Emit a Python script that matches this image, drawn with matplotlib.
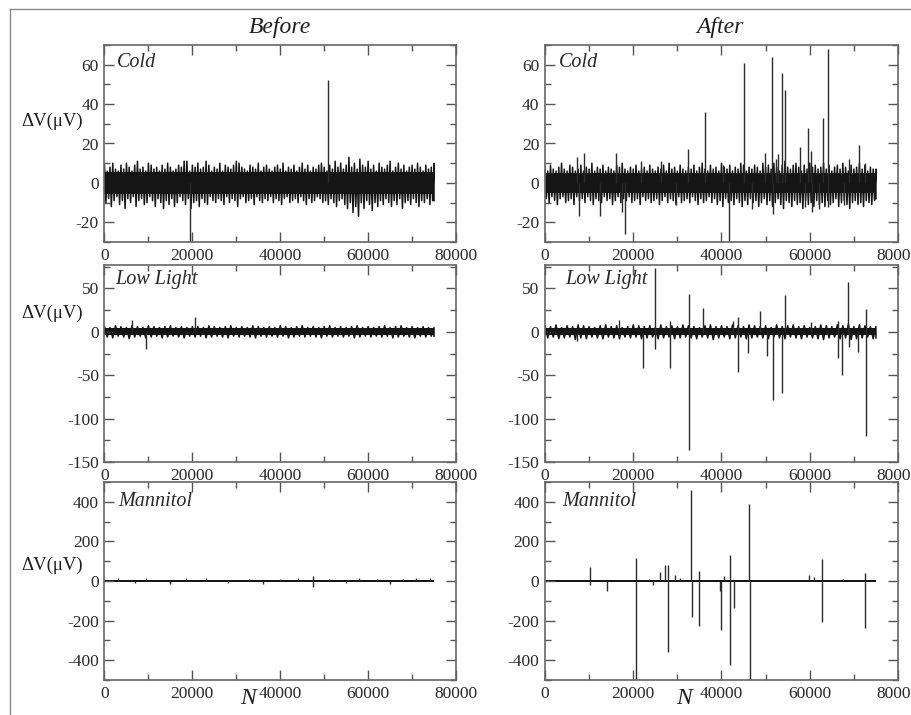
import matplotlib
matplotlib.use("Agg")
import matplotlib.pyplot as plt
import numpy as np
from matplotlib.ticker import MultipleLocator
from matplotlib.lines import Line2D

plt.rcParams['font.family'] = ['Liberation Serif', 'DejaVu Serif']
plt.rcParams['axes.unicode_minus'] = False

N_END = 75000

# ---- Cold ----
cold_before_hi = [9, 6, 8, 10, 7, 6, 9, 7, 10, 8, 6, 9, 11, 7, 8, 6, 10, 9, 7, 8,
                  6, 9, 7, 10, 8, 6, 7, 9, 8, 11, 11, 6, 9, 8, 10, 7, 8, 11, 9, 6,
                  8, 7, 10, 6, 9, 8, 7, 9, 11, 10, 8, 7, 6, 9, 8, 7, 10, 6, 8, 9,
                  7, 6, 8, 9, 7, 10, 6, 8, 7, 9, 6, 8, 10, 7, 9, 6, 8, 7, 9, 10,
                  8, 6, 9, 7, 11, 8, 10, 7, 9, 13, 8, 10, 7, 12, 9, 8, 11, 7, 9, 6,
                  10, 8, 7, 9, 11, 6, 8, 10, 7, 9, 6, 8, 9, 7, 10, 8, 6, 9, 7, 8,
                  10]
cold_before_lo = [-10, -8, -12, -9, -7, -11, -9, -13, -8, -10, -7, -12, -9, -8, -11, -10, -7, -9, -12, -8,
                  -10, -13, -9, -11, -8, -12, -10, -7, -9, -11, -8, -13, -10, -9, -12, -8, -10, -11, -7, -9,
                  -10, -8, -9, -11, -7, -10, -8, -9, -12, -8, -7, -10, -9, -8, -11, -7, -9, -10, -8, -9,
                  -7, -10, -8, -9, -11, -8, -7, -10, -9, -8, -10, -7, -9, -11, -8, -10, -9, -7, -8, -10,
                  -9, -11, -8, -10, -12, -9, -8, -11, -13, -10, -15, -12, -17, -10, -13, -9, -11, -14, -10, -12,
                  -9, -11, -8, -10, -12, -9, -11, -8, -13, -10, -9, -11, -8, -10, -12, -9, -10, -8, -11, -9,
                  -9]
cold_before_core = 5.5
cold_before_spike_n = [19500, 50900]
cold_before_spike_v = [-31, 52]

cold_after_hi = [8, 6, 9, 7, 6, 8, 10, 7, 6, 9, 8, 6, 7, 9, 6, 8, 7, 10, 6, 8,
                 7, 9, 6, 8, 7, 6, 9, 8, 10, 7, 6, 8, 7, 9, 6, 7, 8, 6, 9, 7,
                 6, 8, 7, 9, 6, 10, 7, 8, 6, 9, 7, 6, 8, 7, 9, 6, 8, 10, 7, 6,
                 9, 7, 8, 6, 10, 8, 7, 9, 6, 8, 7, 10, 9, 6, 8, 7, 9, 8, 6, 10,
                 8, 9, 7, 10, 8, 6, 9, 11, 8, 7, 9, 10, 8, 6, 9, 7, 10, 8, 9, 7,
                 8, 10, 7, 9, 6, 8, 9, 7, 10, 8, 6, 9, 7, 8, 10, 7, 9, 6, 8, 7,
                 7]
cold_after_lo = [-8, -10, -7, -9, -11, -8, -7, -10, -9, -8, -11, -7, -9, -8, -10, -7, -9, -11, -8, -9,
                 -10, -7, -9, -8, -11, -9, -7, -10, -8, -9, -7, -10, -9, -8, -11, -7, -9, -8, -10, -9,
                 -8, -11, -9, -7, -10, -8, -9, -11, -7, -10, -9, -8, -10, -7, -9, -11, -8, -10, -9, -7,
                 -10, -8, -11, -9, -12, -8, -10, -9, -11, -8, -10, -12, -9, -11, -8, -10, -9, -12, -10, -8,
                 -11, -9, -12, -10, -8, -11, -13, -9, -10, -12, -9, -11, -10, -13, -9, -11, -10, -12, -9, -11,
                 -10, -12, -9, -11, -10, -8, -12, -10, -9, -11, -13, -10, -9, -11, -10, -12, -9, -10, -11, -9,
                 -8]
cold_after_core = 5
cold_after_spike_n = [7200, 8900, 16200, 21700, 26200, 32300, 36300, 40300, 45200, 49800,
                      51500, 52400, 52800, 53800, 54400, 57700, 59600, 60300, 63000, 64200,
                      68900, 71100, 72500,
                      7700, 12400, 17500, 18100, 29800, 41800, 46800, 51600, 58900, 60500,
                      62000, 64200, 67700]
cold_after_spike_v = [13, 15, 15, 11, 11, 17, 36, 9, 61, 15,
                      64, 12, 14.5, 56, 47, 18, 28, 16, 33, 68,
                      12, 19, 10,
                      -17, -17, -15, -26, -11, -31, -13, -16, -12, -15,
                      -13, -12, -11]

# ---- Low Light ----
low_before_hi = [6, 5, 7, 6, 5, 7, 6, 5, 7, 6, 5, 6, 7, 5, 6, 5, 6, 6, 5, 7,
                 6, 5, 6, 7, 5, 6, 5, 7, 6, 5, 6, 5, 7, 6, 5, 6, 7, 5, 6, 5,
                 6, 7, 5, 6, 5, 6, 7, 5, 6, 5, 6, 7, 5, 6, 7, 5, 6, 5, 6, 5, 5]
low_before_lo = [-6, -7, -5, -6, -8, -6, -5, -7, -6, -5, -7, -6, -5, -6, -7, -5, -6, -5, -7, -6,
                 -5, -6, -7, -5, -6, -5, -6, -7, -5, -6, -5, -6, -5, -7, -6, -5, -6, -5, -6, -7,
                 -5, -6, -5, -6, -5, -7, -6, -5, -6, -5, -6, -5, -7, -6, -5, -6, -7, -5, -6, -5, -5]
low_before_core = 4
low_before_spike_n = [6300, 9400, 20600]
low_before_spike_v = [14, -20, 17]

low_after_hi = [7, 6, 8, 5, 7, 6, 8, 7, 6, 5, 7, 8, 6, 7, 5, 6, 8, 7, 6, 7,
                5, 8, 6, 7, 6, 8, 7, 6, 5, 7, 8, 6, 7, 6, 8, 7, 6, 8, 7, 6,
                7, 5, 8, 6, 7, 8, 6, 7, 5, 6, 8, 7, 6, 8, 7, 9, 6, 8, 7, 6, 6]
low_after_lo = [-7, -6, -8, -7, -6, -9, -7, -8, -6, -7, -8, -6, -7, -8, -6, -7, -6, -8, -7, -6,
                -8, -7, -6, -8, -7, -6, -7, -8, -6, -7, -9, -7, -6, -8, -7, -6, -8, -7, -6, -7,
                -8, -6, -7, -8, -6, -7, -8, -6, -7, -8, -9, -7, -6, -8, -7, -9, -8, -7, -6, -8, -7]
low_after_core = 4
low_after_spike_n = [7300, 16800, 22100, 24900, 24900, 28300, 28300, 32700, 32700, 35700,
                     42600, 43700, 43700, 46000, 48700, 50200, 51700, 53800, 54300, 60200,
                     66300, 66300, 67200, 68700, 68900, 71000, 72700, 72700]
low_after_spike_v = [-10, 14, -42, 73, -20, 12, -42, 44, -136, 28,
                     12, 17, -46, -24, 24, -28, -78, -70, 42, 11,
                     12, -30, -50, 57, -18, -23, 26, -120]

# ---- Mannitol ----
man_before_core = 6
man_before_spike_n = [3000, 7000, 9500, 15000, 18500, 23000, 28000, 33000, 36000, 40000,
                      44000, 47400, 47400, 51000, 55000, 58000, 62000, 65000, 68000, 71000, 74000]
man_before_spike_v = [14, -12, 14, -14, 16, 14, -12, 12, -14, 12,
                      14, 24, -30, 12, -12, 14, 12, -14, 12, 14, 16]

man_after_core = 7
man_after_spike_n = [10200, 10200, 14100, 20600, 20700, 23500, 24500, 26000, 27200, 27900,
                     27900, 29500, 30500, 33200, 33300, 35000, 35000, 39700, 40000, 40500,
                     41900, 42000, 42800, 46300, 46400, 59800, 61000, 62700, 62700, 67500,
                     72500, 72500]
man_after_spike_v = [72, -20, -50, 115, -510, 12, -20, 45, 80, 80,
                     -357, 30, 15, 460, -180, 50, -225, -50, -245, 25,
                     130, -424, -138, 388, -510, 30, 20, 112, -205, 10,
                     42, -238]

W, H = 912, 715
fig = plt.figure(figsize=(W / 100, H / 100), dpi=100)
fig.patch.set_facecolor('white')

col_x = [(104.5, 351.5), (545, 353)]
row_y = [(45, 242), (265, 462), (482, 680)]

ylims = [(-30, 70), (-150, 77), (-500, 500)]
ymajor = [20, 50, 200]
names = ['Cold', 'Low Light', 'Mannitol']
name_x = [[0.036, 0.04], [0.03, 0.057], [0.04, 0.05]]
name_y = [0.912, 0.925, 0.9]

panels = [
    [(cold_before_hi, cold_before_lo, cold_before_core, cold_before_spike_n, cold_before_spike_v),
     (cold_after_hi, cold_after_lo, cold_after_core, cold_after_spike_n, cold_after_spike_v)],
    [(low_before_hi, low_before_lo, low_before_core, low_before_spike_n, low_before_spike_v),
     (low_after_hi, low_after_lo, low_after_core, low_after_spike_n, low_after_spike_v)],
    [(None, None, man_before_core, man_before_spike_n, man_before_spike_v),
     (None, None, man_after_core, man_after_spike_n, man_after_spike_v)],
]

ink = '#151515'


def draw_trace(ax, hi, lo, core, sn, sv):
    ax.fill_between([0, N_END], -core, core, color=ink, lw=0)
    if hi is not None:
        # zig-zag between the upper and lower peaks of the noise
        pos = np.linspace(0, N_END, len(hi))
        step = pos[1] - pos[0]
        x = np.empty(2 * len(hi))
        y = np.empty(2 * len(hi))
        x[0::2] = pos
        x[1::2] = np.minimum(pos + step / 2, N_END)
        y[0::2] = hi
        y[1::2] = lo
        ax.plot(x, y, color=ink, lw=1.1)
    ax.vlines(sn, 0, sv, color='#2a2a2a', lw=1.0)


for r in range(3):
    for c in range(2):
        x0, w = col_x[c]
        top, bot = row_y[r]
        ax = fig.add_axes([x0 / W, 1 - bot / H, w / W, (bot - top) / H])
        hi, lo, core, sn, sv = panels[r][c]
        draw_trace(ax, hi, lo, core, sn, sv)
        ax.set_xlim(0, 80000)
        ax.set_ylim(*ylims[r])
        ax.xaxis.set_major_locator(MultipleLocator(20000))
        ax.xaxis.set_minor_locator(MultipleLocator(10000))
        ax.yaxis.set_major_locator(MultipleLocator(ymajor[r]))
        ax.yaxis.set_minor_locator(MultipleLocator(ymajor[r] / 2))
        ax.tick_params(which='both', direction='in', top=True, right=True,
                       color='#555555', labelcolor='#2a2a2a', labelsize=12.5)
        ax.tick_params(which='major', length=7, width=1, pad=4)
        ax.tick_params(which='minor', length=4, width=1)
        for s in ax.spines.values():
            s.set_color('#666666')
            s.set_linewidth(1.2)
        ax.text(name_x[r][c], name_y[r], names[r], transform=ax.transAxes,
                style='italic', fontsize=14.5, color='#2a2a2a', va='center')

# column headings and axis titles
fig.text(280 / W, 1 - 27 / H, 'Before', style='italic', fontsize=17,
         color='#1e1e1e', ha='center', va='center')
fig.text(720 / W, 1 - 27 / H, 'After', style='italic', fontsize=17,
         color='#1e1e1e', ha='center', va='center')
for yp in [121, 313, 565]:
    fig.text(52 / W, 1 - yp / H, 'ΔV(μV)', fontsize=13.5, color='#1e1e1e',
             ha='center', va='center')
for xp in [248, 684]:
    fig.text(xp / W, 1 - 698 / H, 'N', style='italic', fontsize=17,
             color='#1e1e1e', ha='center', va='center')

# outer frame
fig.add_artist(Line2D([10 / W, 1], [1 - 9 / H, 1 - 9 / H], transform=fig.transFigure,
                      color='#888888', lw=1))
fig.add_artist(Line2D([10 / W, 10 / W], [0, 1 - 9 / H], transform=fig.transFigure,
                      color='#888888', lw=1))

fig.savefig('out.png', dpi=100)
